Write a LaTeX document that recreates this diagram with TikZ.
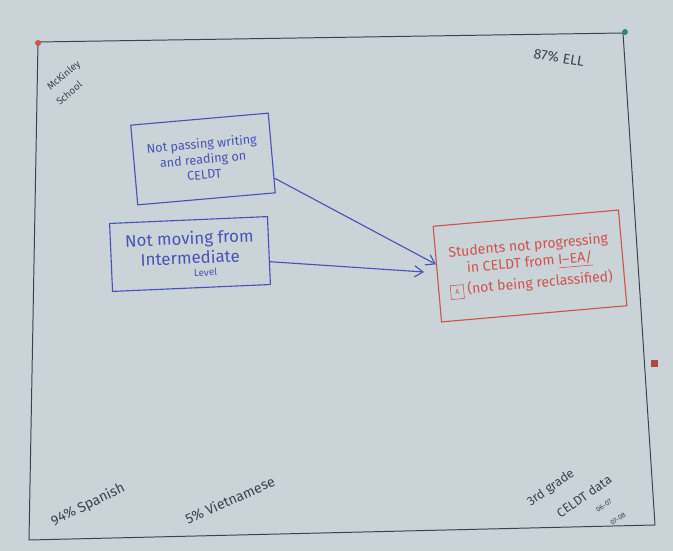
\documentclass[tikz,border=0pt]{standalone}
\usepackage{fontspec}
\setmainfont{Fira Sans}
\definecolor{board}{HTML}{CAD3D8}
\definecolor{pencil}{HTML}{3A4250}
\definecolor{markerblue}{HTML}{4A52B4}
\definecolor{markerred}{HTML}{D0524C}
\definecolor{pingreen}{HTML}{2A8A80}
\tikzset{
  causebox/.style={draw=markerblue, line width=0.8pt, text=markerblue, align=center, inner sep=0pt},
  effectbox/.style={draw=markerred, line width=0.8pt, text=markerred, align=center, inner sep=0pt},
  note/.style={text=pencil, inner sep=1pt},
  link/.style={draw=markerblue, line width=0.8pt, -{Straight Barb[length=6pt,width=8pt]}}
}
\usetikzlibrary{arrows.meta}
\begin{document}
\begin{tikzpicture}[x=0.25mm,y=-0.25mm]
  \fill[board] (0,0) rectangle (673,551);
  \useasboundingbox (0,0) rectangle (673,551);
  % poster edge
  \draw[pencil, line width=0.7pt] (38,42) -- (623,33) -- (655,525) -- (29,540) -- cycle;
  \fill[markerred] (38,43) circle (3);
  \fill[pingreen] (625,32) circle (3);
  \fill[markerred!85!black] (651,360) rectangle (658,367);
  % corner notes
  \node[note, rotate=40, font=\scriptsize] (mckinley) at (64,76) {McKinley};
  \node[note, rotate=40, font=\scriptsize] (school) at (69,93) {School};
  \node[note, rotate=-9] (ell) at (559,58) {87\% ELL};
  \node[note, rotate=26] (spanish) at (88,505) {94\% Spanish};
  \node[note, rotate=24] (viet) at (230,500) {5\% Vietnamese};
  \node[note, rotate=35, font=\small] (grade) at (551,488) {3rd grade};
  \node[note, rotate=35, font=\small] (celdt) at (584,496) {CELDT data};
  \node[note, rotate=35, font=\tiny] (yr1) at (604,506) {06-07};
  \node[note, rotate=35, font=\tiny] (yr2) at (618,519) {07-08};
  % causes
  \node[causebox, rotate=5, minimum width=34.5mm, minimum height=20mm, font=\small] (writing) at (203,159)
    {Not passing writing\\and reading on\\CELDT};
  \node[causebox, rotate=2.5, minimum width=39.5mm, minimum height=17mm, font=\large] (level) at (190,254)
    {Not moving from\\Intermediate\\[-5pt]{\scriptsize\hspace{3em}Level}};
  % effect
  \node[effectbox, rotate=5, minimum width=46.5mm, minimum height=24mm] (stuck) at (530,266)
    {Students not progressing\\in CELDT from \underline{I--EA/}\\[3pt]\fbox{\tiny A} (not being reclassified)};
  \coordinate (stuckin) at (424,272);
  \draw[link] (writing.-20) -- (stuck.174);
  \draw[link] (level.-8) -- (stuckin);
\end{tikzpicture}
\end{document}
